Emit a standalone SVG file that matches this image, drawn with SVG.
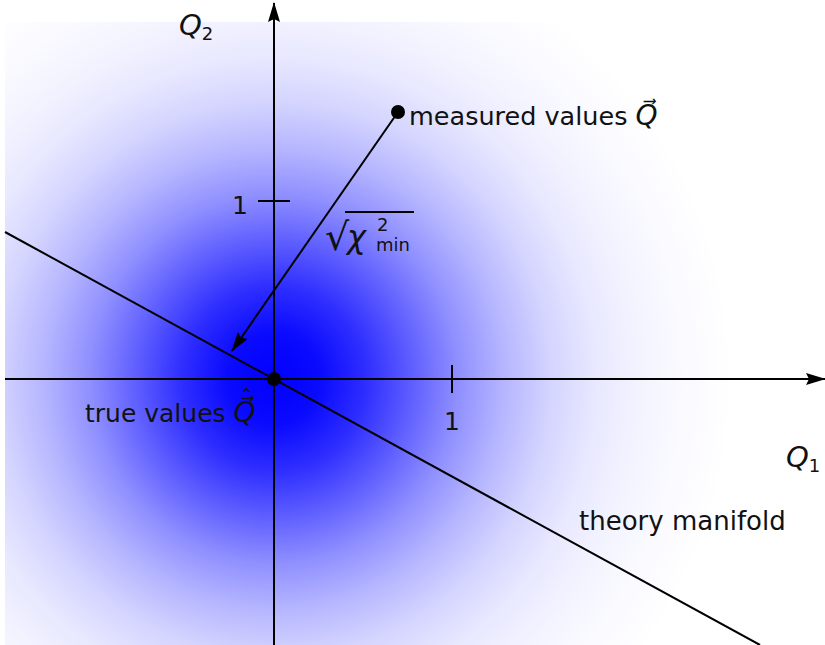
<svg xmlns="http://www.w3.org/2000/svg" width="825" height="645" viewBox="0 0 825 645">
<defs>
<radialGradient id="g" gradientUnits="userSpaceOnUse" cx="274" cy="379" r="460">
<stop offset="0" stop-color="#0000ff" stop-opacity="1"/>
<stop offset="0.1" stop-color="#0000ff" stop-opacity="0.96"/>
<stop offset="0.2" stop-color="#0000ff" stop-opacity="0.82"/>
<stop offset="0.3" stop-color="#0000ff" stop-opacity="0.63"/>
<stop offset="0.4" stop-color="#0000ff" stop-opacity="0.44"/>
<stop offset="0.5" stop-color="#0000ff" stop-opacity="0.29"/>
<stop offset="0.6" stop-color="#0000ff" stop-opacity="0.17"/>
<stop offset="0.7" stop-color="#0000ff" stop-opacity="0.09"/>
<stop offset="0.8" stop-color="#0000ff" stop-opacity="0.045"/>
<stop offset="0.9" stop-color="#0000ff" stop-opacity="0.018"/>
<stop offset="1" stop-color="#0000ff" stop-opacity="0"/>
</radialGradient>
<marker id="ah" viewBox="0 0 20 12" refX="19" refY="6" markerWidth="20" markerHeight="12" markerUnits="userSpaceOnUse" orient="auto">
<path d="M0,0 L20,6 L0,12 L3,6 Z" fill="#000"/>
</marker>
<style>
.ln{stroke:#000;stroke-width:2;fill:none}
.t{font-family:"DejaVu Sans","Liberation Sans",sans-serif;font-size:25px;fill:#111}
.m{font-family:"DejaVu Sans","Liberation Sans",sans-serif;font-style:italic;font-size:29px;fill:#111}
.s{font-family:"DejaVu Sans","Liberation Sans",sans-serif;font-size:18px;fill:#111}
</style>
</defs>
<rect width="825" height="645" fill="#fff"/>
<rect id="density" x="5" y="22" width="820" height="623" fill="url(#g)"/>
<g id="connectors">
<line id="q1-axis" class="ln" x1="5" y1="379" x2="825" y2="379" marker-end="url(#ah)"/>
<line id="q2-axis" class="ln" x1="274" y1="645" x2="274" y2="3" marker-end="url(#ah)"/>
<line id="theory-line" class="ln" x1="5" y1="232" x2="760" y2="645"/>
<line id="chi-arrow" class="ln" x1="398" y1="112" x2="232" y2="351" marker-end="url(#ah)"/>
<line class="ln" x1="258" y1="201" x2="290" y2="201"/>
<line class="ln" x1="452" y1="365" x2="452" y2="393"/>
</g>
<g id="axis-labels">
<text class="m" x="179" y="35">Q<tspan class="s" style="font-style:normal" dy="5">2</tspan></text>
<text class="m" x="786" y="467">Q<tspan class="s" style="font-style:normal" dy="5">1</tspan></text>
<text class="t" x="232" y="214">1</text>
<text class="t" x="444" y="430">1</text>
</g>
<g id="true-values">
<circle cx="274" cy="379" r="7" fill="#000"/>
<text class="t" x="85" y="422">true values <tspan class="m" style="font-size:28px">Q⃗</tspan></text>
<text class="t" x="241" y="405" style="font-size:22px">ˆ</text>
</g>
<g id="measured-values">
<circle cx="398" cy="112" r="7" fill="#000"/>
<text class="t" x="409" y="125" style="font-size:25.5px">measured values <tspan class="m" style="font-size:28px">Q⃗</tspan></text>
</g>
<g id="chi-label">
<text class="t" x="325" y="250" style="font-size:38px">√</text>
<line x1="345" y1="212" x2="414" y2="212" stroke="#000" stroke-width="2"/>
<text class="m" x="347" y="248" style="font-size:32px">χ</text>
<text class="s" x="377" y="231">2</text>
<text class="s" x="376" y="251">min</text>
</g>
<g id="theory-manifold">
<text class="t" x="579" y="530" style="font-size:26px">theory manifold</text>
</g>
</svg>
